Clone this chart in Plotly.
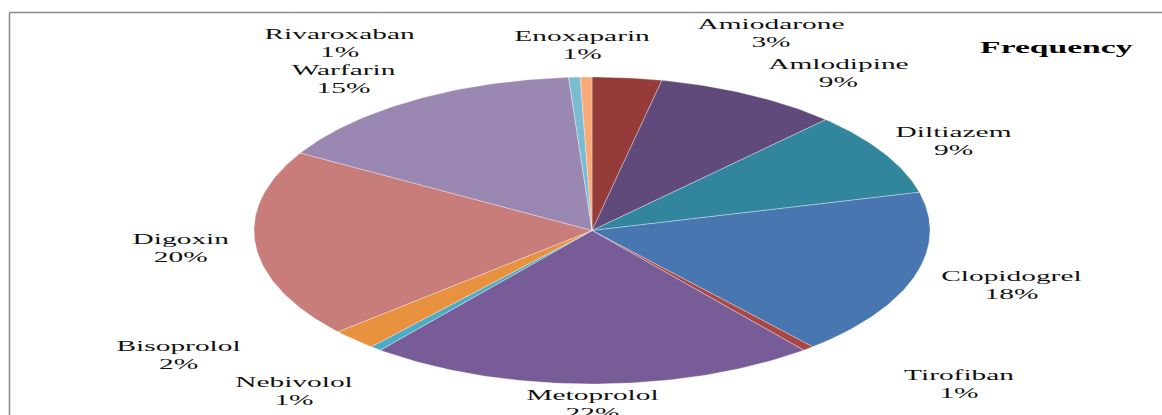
import numpy as np
import plotly.graph_objects as go

# Drug usage counts, listed clockwise starting at 12 o'clock
drugs = ["Amiodarone", "Amlodipine", "Diltiazem", "Clopidogrel", "Tirofiban",
         "Metoprolol", "Nebivolol", "Bisoprolol", "Digoxin", "Warfarin",
         "Rivaroxaban", "Enoxaparin"]
counts = [6, 16, 16, 32, 1, 39, 1, 4, 36, 28, 1, 1]
colors = ["#953B39", "#604A7B", "#31859C", "#4776B0", "#AA4643", "#785C98",
          "#4BACC6", "#E8913F", "#C87D7A", "#9B88B2", "#7BBCD2", "#F9AA79"]

# Label block centres in pixels (x, y from top)
label_px = [(771, 33), (838, 73), (953, 141), (1011, 285), (959, 384),
            (592, 404), (294, 391), (178, 355), (181, 248), (343, 80),
            (340, 44), (582, 45)]

W, H = 1162, 415
CX, CY = 592, 230.5          # pie centre in pixels
RX, RY = 338, 153.5          # pie radii in pixels (horizontally stretched)

total = sum(counts)
fracs = np.array(counts) / total
edges = np.concatenate([[0], np.cumsum(fracs)])

fig = go.Figure()
for i, name in enumerate(drugs):
    t0, t1 = edges[i] * 2 * np.pi, edges[i + 1] * 2 * np.pi
    n = max(4, int(np.ceil((t1 - t0) / (2 * np.pi) * 400)))
    th = np.linspace(t0, t1, n)
    xs = np.concatenate([[0], np.sin(th), [0]])
    ys = np.concatenate([[0], np.cos(th), [0]])
    fig.add_trace(go.Scatter(
        x=xs, y=ys, mode="lines", fill="toself", fillcolor=colors[i],
        line=dict(color="rgba(255,255,255,0.55)", width=0.6),
        hoverinfo="skip", showlegend=False, name=name))

SERIF = "'Times New Roman', 'Liberation Serif', 'DejaVu Serif', serif"
font = dict(family=SERIF, size=14, color="#111111")
for i, name in enumerate(drugs):
    pct = round(fracs[i] * 100)
    px, py = label_px[i]
    fig.add_annotation(x=px / W, y=1 - py / H, xref="paper", yref="paper",
                       text=f"{name}<br>{pct}%", showarrow=False,
                       xanchor="center", yanchor="middle", font=font, align="center")

fig.add_annotation(x=1056 / W, y=1 - 48 / H, xref="paper", yref="paper",
                   text="<b>Frequency</b>", showarrow=False,
                   xanchor="center", yanchor="middle",
                   font=dict(family=SERIF, size=16, color="#000000"))

# Chart frame: top and left edges
fig.add_shape(type="line", xref="paper", yref="paper",
              x0=9.5 / W, x1=1.0, y0=1 - 12.5 / H, y1=1 - 12.5 / H,
              line=dict(color="#8C8C8C", width=1.6))
fig.add_shape(type="line", xref="paper", yref="paper",
              x0=9.5 / W, x1=9.5 / W, y0=1 - 12.5 / H, y1=0,
              line=dict(color="#8C8C8C", width=1.6))

fig.update_xaxes(range=[-CX / RX, (W - CX) / RX], visible=False, fixedrange=True)
fig.update_yaxes(range=[-(H - CY) / RY, CY / RY], visible=False, fixedrange=True)
fig.update_layout(width=W, height=H, autosize=False,
                  margin=dict(l=0, r=0, t=0, b=0),
                  font=dict(family=SERIF),
                  paper_bgcolor="white", plot_bgcolor="white")

# Widen the serif labels horizontally to match the stretched pie
post = """
var gd = document.getElementById('{plot_id}');
function widen() {
  gd.querySelectorAll('text.annotation-text').forEach(function (t) {
    t.style.transformBox = 'fill-box';
    t.style.transformOrigin = 'center';
    t.style.transform = 'scaleX(2.1)';
  });
}
widen();
gd.on('plotly_afterplot', widen);
"""

fig.write_html("out.html", post_script=post, config={"displayModeBar": False})
